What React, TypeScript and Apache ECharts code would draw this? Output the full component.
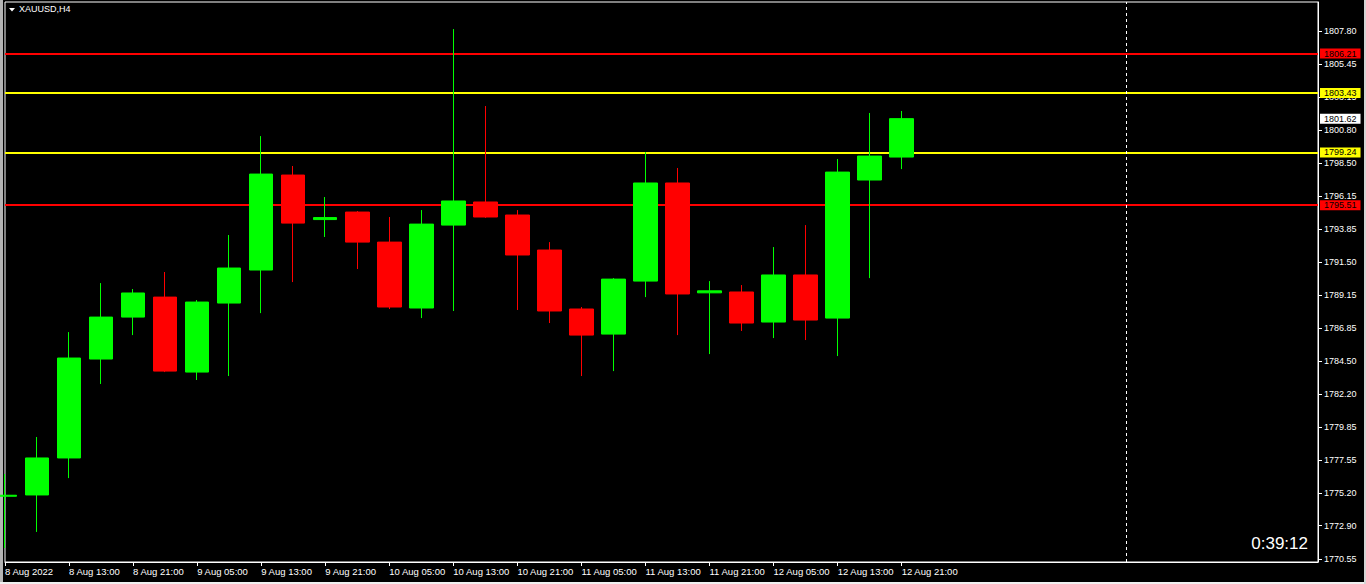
import React, { useEffect, useRef } from "react";
import * as echarts from "echarts";

const symbolTitle = "XAUUSD,H4";
const timerText = "0:39:12";
const FONT = "Liberation Sans";

// tick labels of the time axis (every 2nd bar)
const timeTickLabels = [
  "8 Aug 2022", "8 Aug 13:00", "8 Aug 21:00", "9 Aug 05:00", "9 Aug 13:00",
  "9 Aug 21:00", "10 Aug 05:00", "10 Aug 13:00", "10 Aug 21:00", "11 Aug 05:00",
  "11 Aug 13:00", "11 Aug 21:00", "12 Aug 05:00", "12 Aug 13:00", "12 Aug 21:00",
];
const slotCount = 42; // bar slots shown, including empty future slots
const separatorSlot = 35;

// H4 candles
const opens = [
  1774.98, 1775.07, 1777.68, 1784.66, 1787.62, 1789.03, 1783.74, 1788.61, 1790.94, 1797.64,
  1794.50, 1795.03, 1792.91, 1788.26, 1794.11, 1795.74, 1794.82, 1792.35, 1788.19, 1786.42,
  1790.16, 1797.08, 1789.33, 1789.39, 1787.27, 1790.59, 1787.55, 1797.29, 1798.91,
];
const closes = [
  1775.05, 1777.68, 1784.73, 1787.62, 1789.32, 1783.81, 1788.68, 1791.08, 1797.71, 1794.25,
  1794.64, 1792.91, 1788.33, 1794.18, 1795.81, 1794.68, 1792.00, 1788.05, 1786.35, 1790.30,
  1797.08, 1789.25, 1789.47, 1787.20, 1790.59, 1787.41, 1797.85, 1798.98, 1801.62,
];
const lows = [
  1771.33, 1772.46, 1776.26, 1782.90, 1786.35, 1783.74, 1783.18, 1783.46, 1787.90, 1790.09,
  1793.27, 1791.01, 1788.19, 1787.55, 1788.05, 1794.62, 1788.12, 1787.20, 1783.46, 1783.81,
  1789.03, 1786.35, 1785.01, 1786.64, 1786.14, 1786.00, 1784.87, 1790.37, 1798.06,
];
const highs = [
  1776.55, 1779.16, 1786.56, 1790.02, 1789.60, 1790.80, 1788.82, 1793.41, 1800.39, 1798.28,
  1796.09, 1795.10, 1794.68, 1795.17, 1807.94, 1802.51, 1795.17, 1792.91, 1788.33, 1790.37,
  1799.26, 1798.14, 1790.16, 1789.88, 1792.56, 1794.11, 1798.77, 1802.02, 1802.16,
];

const priceTicks = [
  1770.55, 1772.90, 1775.20, 1777.55, 1779.85, 1782.20, 1784.50, 1786.85, 1789.15,
  1791.50, 1793.85, 1796.15, 1798.50, 1800.80, 1803.15, 1805.45, 1807.80,
];
const redLevels = [1806.21, 1795.51];
const yellowLevels = [1803.43, 1799.24];
const bidPrice = 1801.62;
const yMin = 1770.34;
const yMax = 1809.85;

export default function App() {
  const ref = useRef<HTMLDivElement>(null);

  useEffect(() => {
    if (!ref.current) return;
    const chart = echarts.init(ref.current, undefined, { renderer: "svg" });

    const categories = Array.from({ length: slotCount }, (_, i) => String(i));
    const candles = opens.map((o, i) => [o, closes[i], lows[i], highs[i]]);
    const showSlot = (i: number) => i % 2 === 0 && i / 2 < timeTickLabels.length;

    const levelLabel = (bg: string) => ({
      show: true,
      position: "end",
      distance: 2,
      formatter: (p: any) => Number(p.value).toFixed(2),
      color: "#000",
      backgroundColor: bg,
      padding: [1, 4, 0, 4],
      fontSize: 9,
      lineHeight: 9,
      fontFamily: FONT,
    });

    const markData: any[] = [
      ...redLevels.map((v) => ({ yAxis: v, lineStyle: { color: "#ff0000", width: 2, type: "solid" }, label: levelLabel("#ff0000") })),
      ...yellowLevels.map((v) => ({ yAxis: v, lineStyle: { color: "#ffff00", width: 2, type: "solid" }, label: levelLabel("#ffff00") })),
      { yAxis: bidPrice, lineStyle: { color: "rgba(0,0,0,0)", width: 0 }, label: levelLabel("#ffffff") },
      { xAxis: separatorSlot, lineStyle: { color: "#ffffff", width: 1, type: [3, 3] }, label: { show: false } },
    ];

    chart.setOption({
      animation: false,
      backgroundColor: "#000000",
      grid: { left: 5, top: 2, right: 48, bottom: 22, show: true, borderColor: "#ffffff", borderWidth: 1, backgroundColor: "transparent" },
      xAxis: {
        type: "category",
        data: categories,
        boundaryGap: false,
        axisLine: { show: true, lineStyle: { color: "#ffffff", width: 1 } },
        axisTick: { show: true, length: 4, interval: (i: number) => showSlot(i), lineStyle: { color: "#ffffff" } },
        axisLabel: {
          interval: (i: number) => showSlot(i),
          formatter: (_v: string, i: number) => (showSlot(i) ? timeTickLabels[i / 2] : ""),
          align: "left",
          color: "#ffffff",
          fontSize: 9.5,
          fontFamily: FONT,
          margin: 4,
          showMinLabel: true,
          showMaxLabel: true,
          hideOverlap: false,
        },
        splitLine: { show: false },
      },
      yAxis: {
        type: "value",
        position: "right",
        min: yMin,
        max: yMax,
        axisLine: { show: true, lineStyle: { color: "#ffffff", width: 1 } },
        axisTick: { show: true, length: 4, customValues: priceTicks, lineStyle: { color: "#ffffff" } },
        axisLabel: {
          customValues: priceTicks,
          formatter: (v: number) => v.toFixed(2),
          color: "#ffffff",
          fontSize: 9,
          fontFamily: FONT,
          margin: 6,
        },
        splitLine: { show: false },
      },
      series: [
        {
          type: "line",
          data: [],
          z: 1,
          silent: true,
          markLine: { z: 1, silent: true, symbol: "none", animation: false, data: markData },
        },
        {
          type: "candlestick",
          data: candles,
          barWidth: 24,
          z: 3,
          clip: true,
          itemStyle: {
            color: "#00ff00",
            color0: "#ff0000",
            borderColor: "#00ff00",
            borderColor0: "#ff0000",
            borderWidth: 1,
          },
        },
      ],
      graphic: [
        { type: "rect", shape: { x: 0, y: 0, width: 3, height: 584 }, style: { fill: "#b4b4b4" }, silent: true },
        { type: "rect", shape: { x: 0, y: 582, width: 1366, height: 2 }, style: { fill: "#f0f0f0" }, silent: true },
        { type: "rect", shape: { x: 1364, y: 0, width: 2, height: 584 }, style: { fill: "#d4d4d4" }, silent: true },
        { type: "polygon", shape: { points: [[9, 8], [15, 8], [12, 11.5]] }, style: { fill: "#ffffff" }, silent: true },
        {
          type: "text", x: 19, y: 9,
          style: { text: symbolTitle, fill: "#ffffff", font: `9px "${FONT}"`, align: "left", verticalAlign: "middle" },
          silent: true,
        },
        {
          type: "text", x: 1308, y: 543,
          style: { text: timerText, fill: "#ffffff", font: `17px "${FONT}"`, align: "right", verticalAlign: "middle" },
          silent: true,
        },
      ],
    });

    return () => chart.dispose();
  }, []);

  return (
    <div
      ref={ref}
      style={{ position: "absolute", left: 0, top: 0, width: 1366, height: 584 }}
    />
  );
}
